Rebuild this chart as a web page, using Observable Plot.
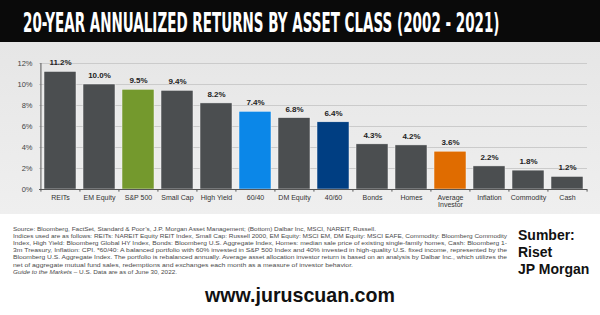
<!DOCTYPE html>
<html><head><meta charset="utf-8">
<script src="https://cdn.jsdelivr.net/npm/d3@7"></script>
<script src="https://cdn.jsdelivr.net/npm/@observablehq/plot@0.6"></script>
<style>
body{margin:0;width:600px;height:315px;overflow:hidden;background:#fff;font-family:"Liberation Sans",Arial,sans-serif;position:relative}
#title{position:absolute;left:0;top:0;width:600px;height:42px;background:#0a0a0a}
#panel{position:absolute;left:0;top:42px;width:600px;height:172px;background:linear-gradient(#e6e6e6,#efefef)}
#panel svg{overflow:visible}
#footer{position:absolute;left:0;top:214px;width:600px;height:101px}
</style></head><body>
<div id="title"></div>
<div id="panel"></div>
<div id="footer"></div>
<script>
const titleText = "20-YEAR ANNUALIZED RETURNS BY ASSET CLASS (2002 - 2021)";
const categories = ["REITs","EM Equity","S&P 500","Small Cap","High Yield","60/40","DM Equity","40/60","Bonds","Homes","Average Investor","Inflation","Commodity","Cash"];
const returns = [11.2, 10.0, 9.5, 9.4, 8.2, 7.4, 6.8, 6.4, 4.3, 4.2, 3.6, 2.2, 1.8, 1.2];
const yTicks = [0, 2, 4, 6, 8, 10, 12];
const sourceLines = [
  "Source: Bloomberg, FactSet, Standard & Poor\u2019s, J.P. Morgan Asset Management; (Bottom) Dalbar Inc, MSCI, NAREIT, Russell.",
  "Indices used are as follows: REITs: NAREIT Equity REIT Index, Small Cap: Russell 2000, EM Equity: MSCI EM, DM Equity: MSCI EAFE, Commodity: Bloomberg Commodity",
  "Index, High Yield: Bloomberg Global HY Index, Bonds: Bloomberg U.S. Aggregate Index, Homes: median sale price of existing single-family homes, Cash: Bloomberg 1-",
  "3m Treasury, Inflation: CPI. *60/40: A balanced portfolio with 60% invested in S&P 500 Index and 40% invested in high-quality U.S. fixed income, represented by the",
  "Bloomberg U.S. Aggregate Index. The portfolio is rebalanced annually. Average asset allocation investor return is based on an analysis by Dalbar Inc., which utilizes the",
  "net of aggregate mutual fund sales, redemptions and exchanges each month as a measure of investor behavior."
];
const guideItalic = "Guide to the Markets";
const guideRest = " \u2013 U.S. Data are as of June 30, 2022.";
const website = "www.juruscuan.com";
const sumberLines = ["Sumber:", "Riset", "JP Morgan"];

// styles
const barColor = {"S&P 500":"#74992d","60/40":"#0b87e8","40/60":"#003e82","Average Investor":"#e06c00"};
const defaultBar = "#4b4e50";

// fit a text element horizontally to a given width via transform
function fitText(sel, x, y, w) {
  const n = sel.node().getComputedTextLength();
  sel.attr("transform", `translate(${x},${y}) scale(${w / n},1)`);
}

// title
const tsvg = d3.select("#title").append("svg").attr("width",600).attr("height",42);
const tt = tsvg.append("text").attr("fill","#fff")
  .attr("font-family","'DejaVu Sans Condensed','DejaVu Sans',sans-serif").attr("font-weight","bold")
  .attr("font-size",27).text(titleText);
fitText(tt, 23, 32, 477);

// chart
const data = categories.map((c,i)=>({category:c, value:returns[i]}));
const W = 600, mL = 39, mR = 13;
const step = (W - mL - mR) / categories.length;
const chart = Plot.plot({
  width: W, height: 172, marginLeft: mL, marginRight: mR, marginTop: 21, marginBottom: 25,
  style: {background: "transparent", fontFamily: "'Liberation Sans', Arial, sans-serif", overflow: "visible"},
  x: {domain: categories, paddingInner: 0.18, paddingOuter: 0.09, label: null},
  y: {domain: [0, 12], label: null},
  color: {type: "identity"},
  marks: [
    Plot.ruleY(yTicks.filter(t => t > 0), {stroke: "#cbcbcb", strokeWidth: 1}),
    Plot.barY(data, {x: "category", y: "value", fill: d => barColor[d.category] ?? defaultBar, stroke: "#f6f6f6", strokeWidth: 0.5}),
    Plot.text(data, {x: "category", y: "value", text: d => d.value.toFixed(1) + "%", dy: -9, fontWeight: "bold", fontSize: 8, fill: "#222"}),
    Plot.ruleY([0], {stroke: "#555"}),
    Plot.ruleX([categories[0]], {x: d => d, dx: -step/2, y1: 0, y2: 12, stroke: "#555"}),
    Plot.ruleX(categories, {x: d => d, dx: -step/2, y1: 0, y2: -0.25, stroke: "#555"}),
    Plot.ruleX([categories[categories.length-1]], {x: d => d, dx: step/2, y1: 0, y2: -0.25, stroke: "#555"}),
    Plot.axisY({ticks: yTicks, tickFormat: d => d + "%", tickSize: 0, tickPadding: 7, fontSize: 7.5, color: "#444", label: null}),
    Plot.axisX({tickSize: 0, tickPadding: 6, fontSize: 7, color: "#333", label: null, tickFormat: d => d === "Average Investor" ? "Average\nInvestor" : d})
  ]
});
document.getElementById("panel").appendChild(chart);

// footer
const fsvg = d3.select("#footer").append("svg").attr("width",600).attr("height",101);
const lineWidths = [363, 494, 494, 494, 494, 340];
sourceLines.forEach((t,i) => {
  fsvg.append("text").attr("x",13).attr("y",17 + i*7.1).attr("font-size",6).attr("fill","#4a4a4a")
    .attr("font-family","'Liberation Sans',Arial,sans-serif")
    .attr("textLength",lineWidths[i]).attr("lengthAdjust","spacingAndGlyphs").text(t);
});
const g7 = fsvg.append("text").attr("x",13).attr("y",17 + 6*7.1).attr("font-size",6).attr("fill","#4a4a4a")
  .attr("font-family","'Liberation Sans',Arial,sans-serif").attr("textLength",164).attr("lengthAdjust","spacingAndGlyphs");
g7.append("tspan").attr("font-style","italic").text(guideItalic);
g7.append("tspan").text(guideRest);

const web = fsvg.append("text").attr("font-size",20)
  .attr("font-weight","bold").attr("fill","#111").attr("font-family","'Liberation Sans',Arial,sans-serif").text(website);
fitText(web, 205, 88, 190);

sumberLines.forEach((t,i) => {
  fsvg.append("text").attr("x",518).attr("y",26 + i*17).attr("font-size",14).attr("font-weight","bold")
    .attr("fill","#111").attr("font-family","'Liberation Sans',Arial,sans-serif").text(t);
});
</script>
</body></html>
